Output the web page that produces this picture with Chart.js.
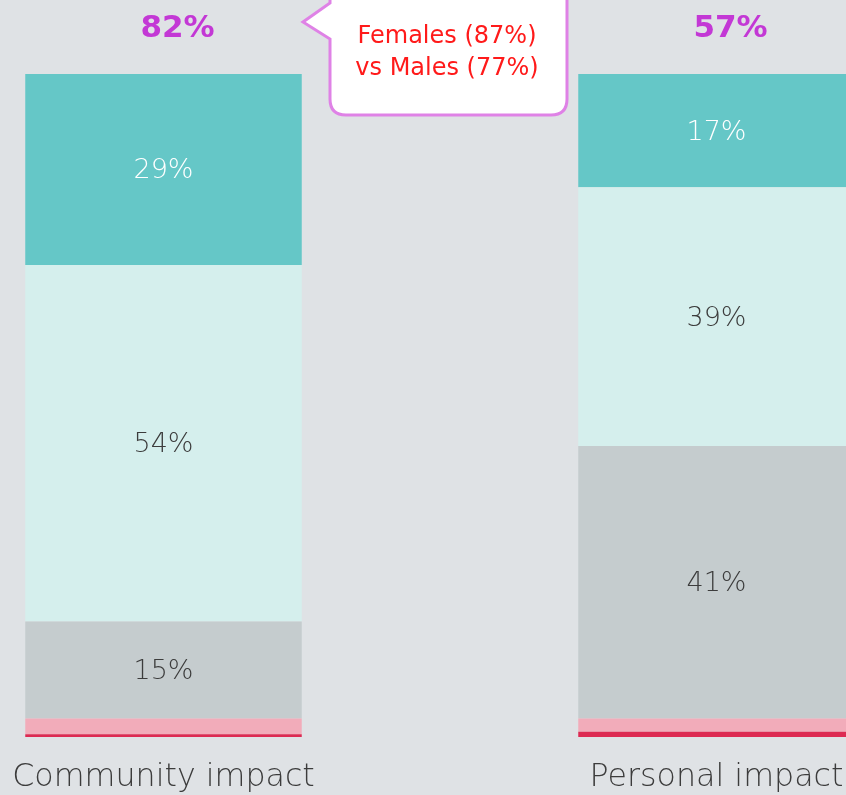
<!DOCTYPE html>
<html>
<head>
<meta charset="utf-8">
<script src="https://cdn.jsdelivr.net/npm/chart.js@4"></script>
<style>
  html, body { margin: 0; padding: 0; background: #dfe2e5; }
  #wrap { position: relative; width: 846px; height: 795px; overflow: hidden; background: #dfe2e5; }
  #holder { position: absolute; left: -113px; top: 0; width: 1106px; height: 819px; }
</style>
</head>
<body>
<div id="wrap"><div id="holder"><canvas id="impact-chart"></canvas></div></div>
<script>
// categories
const categories = ["Community impact", "Personal impact"];
// stacked series, bottom to top (percent)
const redValues = [0.4, 0.8];
const pinkValues = [2.4, 2.0];
const greyValues = [14.6, 41.1];
const paleTealValues = [53.8, 39.0];
const tealValues = [28.8, 17.1];
// headline totals above each bar
const totals = [82, 57];
const calloutLines = ["Females (87%)", "vs Males (77%)"];

const FONT = "'DejaVu Sans', sans-serif";

let series = [
    { label: "red", data: redValues, backgroundColor: "#dd2a52", text: null },
    { label: "pink", data: pinkValues, backgroundColor: "#f2acba", text: null },
    { label: "grey", data: greyValues, backgroundColor: "#c5ccce", text: "#3c3c3c" },
    { label: "pale", data: paleTealValues, backgroundColor: "#d5efed", text: "#3c3c3c" },
    { label: "teal", data: tealValues, backgroundColor: "#65c7c7", text: "#ffffff" },
];

// labels inside segments + totals + callout bubble
const overlayPlugin = {
    id: "overlay",
    afterDatasetsDraw(chart) {
        let ctx = chart.ctx;
        ctx.save();
        ctx.textAlign = "center";
        ctx.textBaseline = "middle";
        chart.data.datasets.forEach((ds, i) => {
            if (!ds.text) return;
            chart.getDatasetMeta(i).data.forEach((bar, j) => {
                ctx.fillStyle = ds.text;
                ctx.font = "300 27px " + FONT;
                ctx.fillText(Math.round(ds.data[j]) + "%", bar.x, (bar.y + bar.base) / 2 + 2);
            });
        });
        // totals
        let topMeta = chart.getDatasetMeta(chart.data.datasets.length - 1);
        topMeta.data.forEach((bar, j) => {
            ctx.fillStyle = "#c338d5";
            ctx.font = "bold 31px " + FONT;
            ctx.fillText(totals[j] + "%", bar.x + 14, 29);
        });
        // callout bubble
        let off = 113;
        let x0 = 330 + off, x1 = 567 + off, y0 = -20, y1 = 115, r = 16;
        ctx.beginPath();
        ctx.moveTo(x0 + r, y0);
        ctx.lineTo(x1 - r, y0);
        ctx.quadraticCurveTo(x1, y0, x1, y0 + r);
        ctx.lineTo(x1, y1 - r);
        ctx.quadraticCurveTo(x1, y1, x1 - r, y1);
        ctx.lineTo(x0 + r, y1);
        ctx.quadraticCurveTo(x0, y1, x0, y1 - r);
        ctx.lineTo(x0, 39);
        ctx.lineTo(303 + off, 22);
        ctx.lineTo(x0, 3);
        ctx.lineTo(x0, y0 + r);
        ctx.quadraticCurveTo(x0, y0, x0 + r, y0);
        ctx.closePath();
        ctx.fillStyle = "#ffffff";
        ctx.fill();
        ctx.lineWidth = 3;
        ctx.strokeStyle = "#df82e6";
        ctx.stroke();
        ctx.fillStyle = "#ff1a1a";
        ctx.font = "24px " + FONT;
        ctx.fillText(calloutLines[0], 447 + off, 37);
        ctx.fillText(calloutLines[1], 447 + off, 69);
        ctx.restore();
    }
};

let impactChart = new Chart(document.getElementById("impact-chart").getContext("2d"), {
    type: "bar",
    data: {
        labels: categories,
        datasets: series.map(s => ({
            label: s.label,
            data: s.data,
            backgroundColor: s.backgroundColor,
            text: s.text,
            borderWidth: 0,
            barPercentage: 1,
            categoryPercentage: 0.5,
        })),
    },
    options: {
        responsive: true,
        maintainAspectRatio: false,
        animation: false,
        layout: { padding: { top: 74, left: 0, right: 0, bottom: 0 } },
        plugins: {
            legend: { display: false },
            tooltip: { enabled: false },
        },
        scales: {
            x: {
                stacked: true,
                grid: { display: false, drawTicks: false },
                border: { display: false },
                ticks: {
                    color: "#3c3c3c",
                    font: { family: FONT, size: 31.7, weight: 300 },
                    padding: 22,
                    maxRotation: 0,
                },
            },
            y: {
                stacked: true,
                display: false,
                min: 0,
                max: 100,
            },
        },
    },
    plugins: [overlayPlugin],
});
</script>
</body>
</html>
